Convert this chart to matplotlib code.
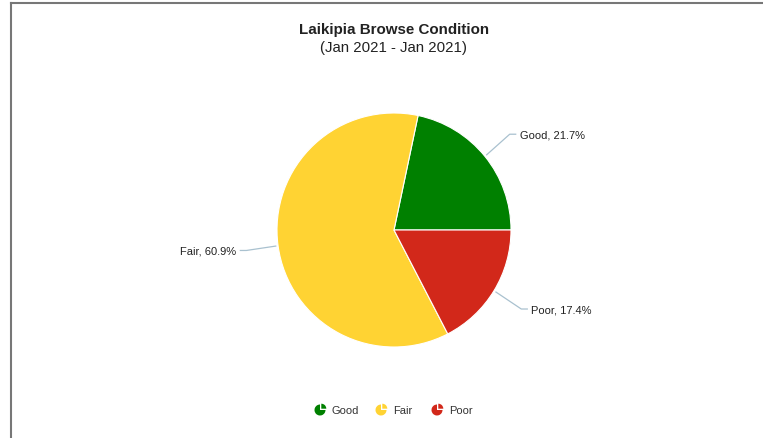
import numpy as np
import matplotlib.pyplot as plt
from matplotlib.patches import Wedge

plt.rcParams['font.family'] = ['Liberation Sans', 'DejaVu Sans']

# data
categories = ["Good", "Fair", "Poor"]
percentages = [21.7, 60.9, 17.4]
colors = ["#008000", "#FFD333", "#D2281A"]
title = "Laikipia Browse Condition"
subtitle = "(Jan 2021 - Jan 2021)"

W, H = 763, 439
fig = plt.figure(figsize=(W / 100, H / 100), dpi=100)
ax = fig.add_axes([0, 0, 1, 1])

cx, cy, r = 394, H - 231, 117
wedges, _ = ax.pie(percentages, colors=colors, startangle=0, counterclock=True,
                   center=(cx, cy), radius=r,
                   wedgeprops=dict(edgecolor="white", linewidth=0.8))
ax.set_xlim(0, W)
ax.set_ylim(0, H)
ax.set_aspect("equal")
ax.axis("off")

# labels with connectors
for w, name, pct in zip(wedges, categories, percentages):
    ang = np.deg2rad((w.theta1 + w.theta2) / 2)
    sx, sy = cx + r * 1.02 * np.cos(ang), cy + r * 1.02 * np.sin(ang)
    bx, by = cx + (r + 32) * np.cos(ang), cy + (r + 35) * np.sin(ang)
    side = 1 if np.cos(ang) >= 0 else -1
    ex = bx + side * 6
    ax.plot([sx, bx, ex], [sy, by, by], color="#a9c1cf", lw=0.9)
    ax.text(ex + side * 4, by, f"{name}, {pct}%", fontsize=8, color="#222222",
            ha="left" if side > 0 else "right", va="center")

# title
ax.text(cx, H - 30, title, fontsize=10.9, fontweight="bold", color="#222222",
        ha="center", va="center")
ax.text(cx, H - 48, subtitle, fontsize=10.8, color="#222222",
        ha="center", va="center")

# legend with small pie icons
leg_x = [320, 381, 437]
leg_y = H - 411
for x, name, c in zip(leg_x, categories, colors):
    ax.add_patch(Wedge((x, leg_y), 5.5, 90, 360, facecolor=c, edgecolor="none"))
    ax.add_patch(Wedge((x + 1.3, leg_y + 1.3), 5, 0, 90, facecolor=c, edgecolor="none"))
    ax.text(x + 12, leg_y, name, fontsize=8, color="#333333",
            ha="left", va="center")

# frame lines at top and left
ax.plot([11, W], [H - 4, H - 4], color="#777777", lw=1.5)
ax.plot([11, 11], [H - 4, 0], color="#777777", lw=1.5)

fig.savefig("out.png", dpi=100)
